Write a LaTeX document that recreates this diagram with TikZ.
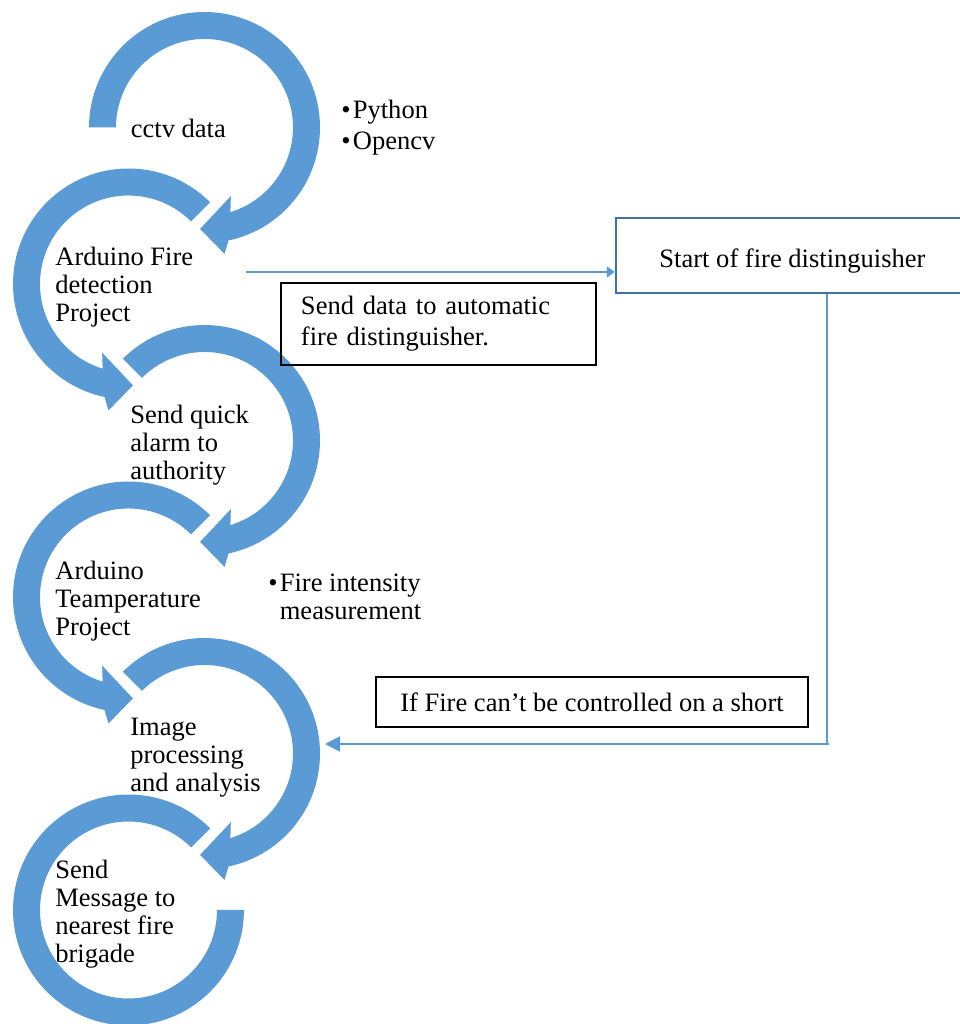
\documentclass[tikz,border=0pt]{standalone}
\usepackage{fontspec}
\setmainfont{Liberation Serif}
\usetikzlibrary{positioning,arrows.meta}

\definecolor{ringblue}{HTML}{5B9BD5}
\definecolor{boxblue}{HTML}{41719C}
\newcommand\bitem{\makebox[2.3mm][l]{\textbullet}}

\tikzset{
  txt/.style={font=\fontsize{15.1}{15.9}\selectfont, align=left, inner sep=0pt},
  msgbox/.style={draw=black, line width=0.3mm, font=\fontsize{15.1}{17.6}\selectfont, inner xsep=4mm},
  flow/.style={draw=ringblue, line width=0.4mm},
}

\begin{document}
\begin{tikzpicture}[x=0.2mm, y=0.2mm]
    \useasboundingbox (0,0) rectangle (959,1024);

    \coordinate (c1) at (204.5,896.5);
    \coordinate (c2) at (128.5,740);
    \coordinate (c3) at (204.5,583.5);
    \coordinate (c4) at (128.5,427);
    \coordinate (c5) at (204.5,270.5);
    \coordinate (c6) at (128.5,114);

    % rings turning clockwise
    \foreach \c/\s in {c1/180, c3/135, c5/135}
      \fill[ringblue, shift={(\c)}] (\s:115.5) arc[start angle=\s, end angle=-78, radius=115.5]
        -- (-81:128) -- (-92.5:101.5) -- (-69:73.5) -- (-73:88.5)
        arc[start angle=-73, end angle=\s, radius=88.5] -- cycle;
    % rings turning the other way
    \foreach \c in {c2, c4}
      \fill[ringblue, shift={(\c)}] (45:115.5) arc[start angle=45, end angle=258, radius=115.5]
        -- (261:128) -- (272.5:101.5) -- (249:73.5) -- (253:88.5)
        arc[start angle=253, end angle=45, radius=88.5] -- cycle;
    \fill[ringblue, shift={(c6)}] (45:115.5) arc[start angle=45, end angle=360, radius=115.5]
      -- (0:88.5) arc[start angle=360, end angle=45, radius=88.5] -- cycle;

    \node[txt, right] (cctv) at ([xshift=-14.8mm, yshift=-0.2mm]c1) {cctv data};
    \node[txt, right] (arfire) at ([xshift=-14.7mm, yshift=-0.7mm]c2) {Arduino Fire\\detection\\Project};
    \node[txt, right] (alarm) at ([xshift=-14.9mm, yshift=-0.9mm]c3) {Send quick\\alarm to\\authority};
    \node[txt, right] (artemp) at ([xshift=-14.7mm, yshift=-0.9mm]c4) {Arduino\\Teamperature\\Project};
    \node[txt, right] (imgproc) at ([xshift=-14.9mm, yshift=-0.8mm]c5) {Image\\processing\\and analysis};
    \node[txt, right] (message) at ([xshift=-14.7mm, yshift=-0.8mm]c6) {Send\\Message to\\nearest fire\\brigade};

    \node[txt, right, font=\fontsize{15.1}{17.6}\selectfont] (tools) at (341,896) {\bitem Python\\\bitem Opencv};
    \node[txt, right] (intensity) at (268,427) {\bitem Fire intensity\\\hspace*{2.3mm}measurement};

    \node[txt, draw=boxblue, line width=0.5mm, minimum width=70.6mm, minimum height=15mm, align=center,
          text height=17pt, text depth=3.3pt] (start) at (792.5,768.5) {Start of fire distinguisher};
    \node[msgbox, text width=55mm, minimum height=16.4mm, align=left] (senddata) at (438.5,700) {Send data to automatic\\fire distinguisher.};
    \node[msgbox, minimum width=86.4mm, minimum height=10mm] (notcontrolled) at (592,322) {If Fire can’t be controlled on a short};

    \coordinate (fireout) at (246,752);
    \coordinate (turn) at (827,280);
    \coordinate (imgin) at (325,280);
    \draw[flow, -{Triangle[length=1.6mm, width=2.2mm]}] (fireout) -- (fireout -| start.west);
    \draw[flow, line width=0.3mm] (start.south -| turn) -- (turn);
    \draw[flow, -{Triangle[length=3mm, width=3mm]}] ([xshift=0.4mm]turn) -- (imgin);
\end{tikzpicture}
\end{document}
